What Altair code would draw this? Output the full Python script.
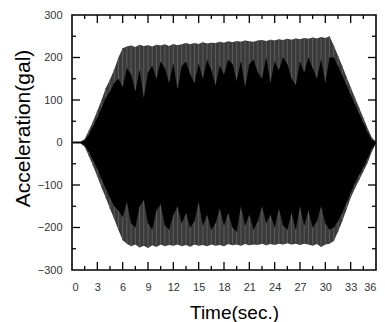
import altair as alt
import pandas as pd

# Sample times (s), every 0.5 s over the record
time_s = [i * 0.5 for i in range(73)]

# Outer envelope of the acceleration trace (gal)
env_upper = [2, 2, 2, 8, 28, 50, 75, 100, 128, 148, 172, 200, 222, 226, 228, 225,
             230, 227, 229, 226, 230, 228, 231, 227, 232, 229, 231, 234, 231, 234,
             232, 236, 233, 235, 234, 237, 235, 238, 236, 239, 237, 240, 238, 237,
             240, 241, 239, 242, 240, 243, 241, 244, 242, 245, 243, 246, 244, 247,
             245, 248, 246, 250, 228, 204, 180, 155, 130, 106, 82, 58, 34, 12, 2]
env_lower = [-2, -2, -2, -10, -32, -55, -80, -106, -130, -156, -180, -206, -230,
             -238, -244, -240, -247, -243, -248, -242, -246, -240, -244, -241, -243,
             -240, -244, -241, -245, -240, -243, -241, -244, -240, -243, -241, -244,
             -239, -242, -240, -243, -239, -242, -240, -241, -238, -242, -239, -241,
             -238, -240, -237, -240, -238, -241, -238, -240, -243, -239, -246, -240,
             -238, -232, -210, -185, -158, -130, -108, -88, -68, -48, -22, -2]

# Dense core of the oscillation (gal)
core_upper = [2, 2, 2, 5, 18, 38, 58, 82, 105, 120, 140, 150,
              130, 175, 160, 120, 170, 105, 165, 180, 150, 190,
              175, 140, 185, 125, 180, 190, 160, 140, 185, 150,
              195, 170, 135, 180, 160, 195, 185, 145, 190, 130,
              185, 195, 165, 150, 200, 140, 190, 170, 200, 185,
              150, 135, 190, 165, 200, 175, 150, 195, 140, 200,
              200, 180, 158, 135, 112, 90, 68, 46, 25, 6, 2]
core_lower = [-2, -2, -2, -7, -22, -42, -62, -86, -108, -130, -150, -160,
              -175, -140, -190, -200, -150, -135, -190, -205, -160, -145,
              -195, -205, -170, -150, -190, -165, -200, -185, -140, -195,
              -170, -205, -190, -155, -195, -165, -200, -210, -150, -195,
              -170, -205, -185, -150, -190, -170, -200, -155, -195, -205,
              -165, -205, -150, -195, -160, -200, -185, -150, -190, -205,
              -200, -185, -165, -142, -118, -96, -76, -58, -38, -15, -2]

x_ticks_major = list(range(0, 37, 3))
x_ticks_minor = [v + 1.5 for v in range(0, 36, 3)]
y_ticks_major = list(range(-300, 301, 100))
y_ticks_minor = list(range(-250, 300, 100))

W, H = 304, 255
FONT = "Liberation Sans"

df = pd.DataFrame({"t": time_s, "hi": env_upper, "lo": env_lower,
                   "chi": core_upper, "clo": core_lower})

xs = alt.Scale(domain=[0, 36], nice=False, zero=False)
ys = alt.Scale(domain=[-300, 300], nice=False)

# One axis definition per channel, shared by every layer so they merge cleanly
x_axis = alt.Axis(
    values=x_ticks_major, title="Time(sec.)", titleFontSize=19,
    titleX=162, titleY=48, titleBaseline="alphabetic", titleAlign="center",
    labelPadding=11)
y_axis = alt.Axis(
    values=y_ticks_major, title="Acceleration(gal)", titleFontSize=21,
    titleX=-49, titleY=113, titleAngle=-90, titleBaseline="middle",
    titleAlign="center", labelPadding=10)


def X(field):
    return alt.X(field, scale=xs, axis=x_axis)


def Y(field):
    return alt.Y(field, scale=ys, axis=y_axis)


base = alt.Chart(df)

band = base.mark_area(color="#3a3a3a").encode(x=X("t:Q"), y=Y("hi:Q"), y2="lo:Q")

streak_hi = base.mark_rule(color="#5e5e5e", strokeWidth=1).encode(
    x=X("t:Q"), y=Y("chi:Q"), y2="hi:Q")
streak_lo = base.mark_rule(color="#5e5e5e", strokeWidth=1).encode(
    x=X("t:Q"), y=Y("clo:Q"), y2="lo:Q")

core = base.mark_area(color="black").encode(x=X("t:Q"), y=Y("chi:Q"), y2="clo:Q")


def x_tick_layer(vals, length, top):
    d = pd.DataFrame({"t": vals})
    if top:
        ypos, ypos2 = alt.value(0), alt.value(length)
    else:
        ypos, ypos2 = alt.value(H), alt.value(H - length)
    return alt.Chart(d).mark_rule(color="black", strokeWidth=1.3).encode(
        x=X("t:Q"), y=ypos, y2=ypos2)


def y_tick_layer(vals, length, right):
    d = pd.DataFrame({"hi": vals})
    if right:
        xpos, xpos2 = alt.value(W), alt.value(W - length)
    else:
        xpos, xpos2 = alt.value(0), alt.value(length)
    return alt.Chart(d).mark_rule(color="black", strokeWidth=1.3).encode(
        y=Y("hi:Q"), x=xpos, x2=xpos2)


ticks = [
    x_tick_layer(x_ticks_major[1:-1], 8, False),
    x_tick_layer(x_ticks_minor, 4, False),
    x_tick_layer(x_ticks_major[1:-1], 8, True),
    x_tick_layer(x_ticks_minor, 4, True),
    y_tick_layer(y_ticks_major[1:-1], 8, False),
    y_tick_layer(y_ticks_minor, 4, False),
    y_tick_layer(y_ticks_major[1:-1], 8, True),
    y_tick_layer(y_ticks_minor, 4, True),
]

chart = alt.layer(band, streak_hi, streak_lo, core, *ticks).properties(
    width=W, height=H,
    autosize=alt.AutoSizeParams(type="none"),
    padding={"left": 72, "top": 15, "right": 9, "bottom": 52},
    background="white",
).configure_view(
    stroke="black", strokeWidth=1.6
).configure_axis(
    domain=False, ticks=False, grid=False,
    labelFont=FONT, labelFontSize=11, labelColor="#333333",
    titleFont=FONT, titleColor="black", titleFontWeight="normal",
)

chart.save("out.html", embed_options={"renderer": "svg", "actions": False})
